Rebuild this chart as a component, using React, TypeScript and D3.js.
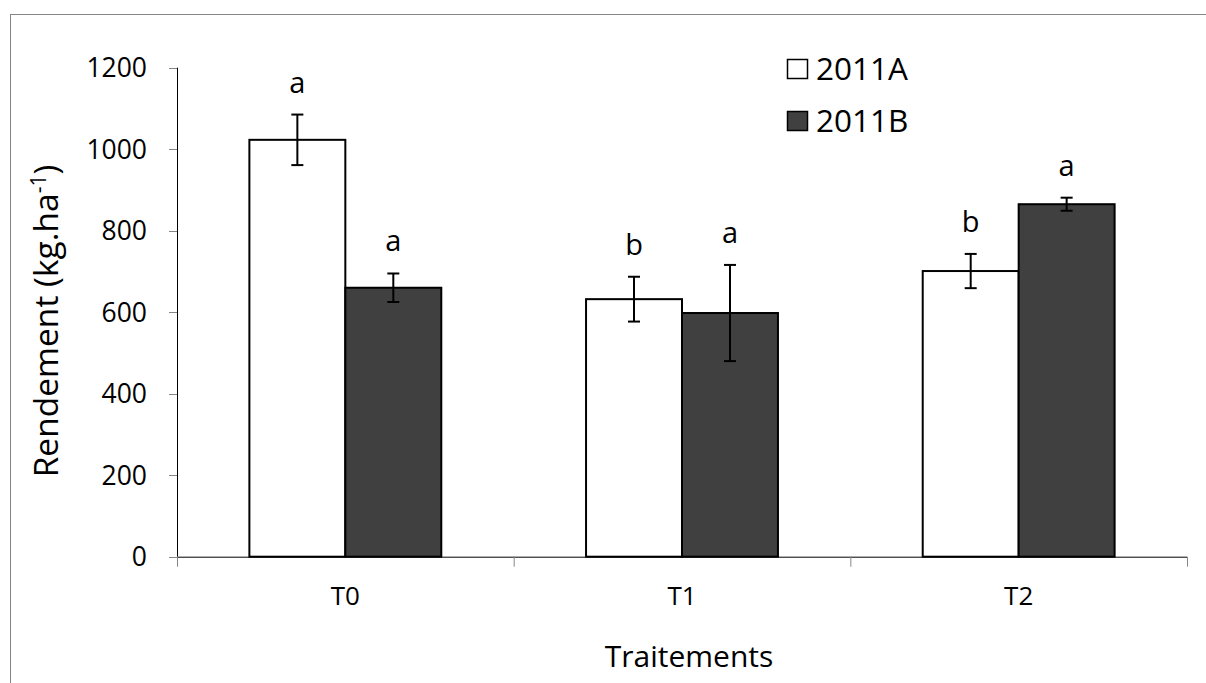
import React from "react";
import * as d3 from "d3";

const categories = ["T0", "T1", "T2"];
const seriesNames = ["2011A", "2011B"];
const values2011A = [1023, 632, 701];
const values2011B = [660, 598, 865];
const errors2011A = [62, 55, 42];
const errors2011B = [35, 118, 16];
const letters2011A = ["a", "b", "b"];
const letters2011B = ["a", "a", "a"];
const yTicks = [0, 200, 400, 600, 800, 1000, 1200];
const seriesColors = ["#ffffff", "#404040"];

const W = 1206;
const H = 683;
const FONT = "'Open Sans', 'Noto Sans', sans-serif";

export default function App() {
  const left = 177;
  const right = 1187;
  const top = 67.7;
  const bottom = 556.7;

  const y = d3.scaleLinear().domain([0, 1200]).range([bottom, top]);
  const x0 = d3.scaleBand<string>().domain(categories).range([left, right]).paddingInner(0).paddingOuter(0);
  const groupW = x0.bandwidth() * 0.57;
  const x1 = d3
    .scaleBand<string>()
    .domain(seriesNames)
    .range([0, groupW])
    .padding(0);

  const series = [
    { name: seriesNames[0], vals: values2011A, errs: errors2011A, letters: letters2011A, color: seriesColors[0] },
    { name: seriesNames[1], vals: values2011B, errs: errors2011B, letters: letters2011B, color: seriesColors[1] },
  ];

  const boundaries = [...categories.map((c) => x0(c) as number), right];

  return (
    <svg width={W} height={H} style={{ position: "absolute", left: 0, top: 0, background: "#fff" }}>
      <rect x={10.5} y={14.5} width={1220} height={700} fill="#fff" stroke="#868686" strokeWidth={1} />

      {/* y axis */}
      <line x1={left + 0.5} x2={left + 0.5} y1={top} y2={bottom} stroke="#000" strokeWidth={1} />
      {yTicks.map((t) => (
        <g key={t}>
          <line x1={left - 8} x2={left} y1={Math.round(y(t)) + 0.5} y2={Math.round(y(t)) + 0.5} stroke="#868686" strokeWidth={1} />
          <text x={147} y={y(t) + 9.5} textAnchor="end" fontFamily={FONT} fontSize={26.5} fill="#000">
            {t}
          </text>
        </g>
      ))}

      {/* bars */}
      {series.map((s) =>
        categories.map((c, i) => {
          const gx = (x0(c) as number) + (x0.bandwidth() - groupW) / 2 + (x1(s.name) as number);
          const bw = x1.bandwidth();
          const cx = gx + bw / 2;
          const v = s.vals[i];
          const e = s.errs[i];
          return (
            <g key={s.name + c}>
              <rect x={gx} y={y(v)} width={bw} height={bottom - y(v)} fill={s.color} stroke="#000" strokeWidth={2} />
              <line x1={cx} x2={cx} y1={y(v + e)} y2={y(v - e)} stroke="#000" strokeWidth={2} />
              <line x1={cx - 6} x2={cx + 6} y1={y(v + e)} y2={y(v + e)} stroke="#000" strokeWidth={2} />
              <line x1={cx - 6} x2={cx + 6} y1={y(v - e)} y2={y(v - e)} stroke="#000" strokeWidth={2} />
              <text x={cx} y={y(v + e) - 22} textAnchor="middle" fontFamily={FONT} fontSize={29} fill="#000">
                {s.letters[i]}
              </text>
            </g>
          );
        })
      )}

      {/* x axis */}
      <line x1={left} x2={right} y1={bottom + 0.5} y2={bottom + 0.5} stroke="#000" strokeWidth={1} />
      {boundaries.map((b, i) => (
        <line key={i} x1={b + 0.5} x2={b + 0.5} y1={bottom} y2={bottom + 10} stroke="#868686" strokeWidth={1} />
      ))}
      {categories.map((c) => (
        <text key={c} x={(x0(c) as number) + x0.bandwidth() / 2} y={605} textAnchor="middle" fontFamily={FONT} fontSize={26} fill="#000">
          {c}
        </text>
      ))}

      {/* axis titles */}
      <text x={689} y={667} textAnchor="middle" fontFamily={FONT} fontSize={30} fill="#000">
        Traitements
      </text>
      <text transform={`translate(58, 321) rotate(-90)`} textAnchor="middle" fontFamily={FONT} fontSize={33.5} fill="#000">
        Rendement (kg.ha<tspan dy={-12} fontSize={21}>-1</tspan><tspan dy={12}>)</tspan>
      </text>

      {/* legend */}
      {series.map((s, i) => (
        <g key={s.name}>
          <rect x={787.5} y={59.5 + i * 52} width={20} height={19} fill={s.color} stroke="#000" strokeWidth={1.5} />
          <text x={816} y={80 + i * 52} fontFamily={FONT} fontSize={31.5} fill="#000">
            {s.name}
          </text>
        </g>
      ))}
    </svg>
  );
}
